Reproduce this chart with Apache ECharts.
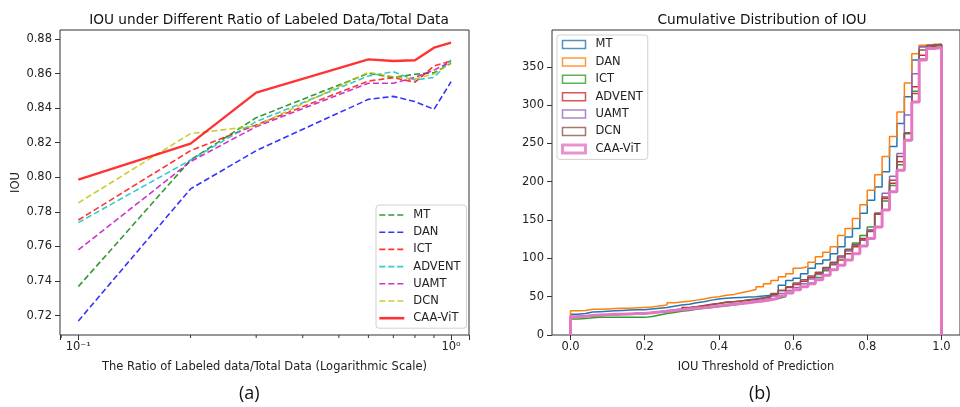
<!DOCTYPE html>
<html>
<head>
<meta charset="utf-8">
<script src="https://cdn.jsdelivr.net/npm/echarts@6/dist/echarts.min.js"></script>
<style>
  html, body { margin: 0; padding: 0; background: #fff; }
  #main { width: 960px; height: 407px; }
</style>
</head>
<body>
<div id="main"></div>
<script>
// (a) IOU vs ratio of labeled data
const ratio = [0.1, 0.2, 0.3, 0.6, 0.7, 0.8, 0.9, 1.0];
const iouMT = [0.7368, 0.8100, 0.8345, 0.8601, 0.8578, 0.8596, 0.8605, 0.8659];
const iouDAN = [0.7169, 0.7933, 0.8154, 0.8451, 0.8468, 0.8438, 0.8393, 0.8553];
const iouICT = [0.7753, 0.8154, 0.8303, 0.8557, 0.8576, 0.8550, 0.8644, 0.8673];
const iouADVENT = [0.7738, 0.8100, 0.8322, 0.8586, 0.8611, 0.8563, 0.8578, 0.8679];
const iouUAMT = [0.7580, 0.8091, 0.8293, 0.8544, 0.8544, 0.8578, 0.8620, 0.8669];
const iouDCN = [0.7852, 0.8253, 0.8297, 0.8607, 0.8582, 0.8569, 0.8598, 0.8663];
const iouCAA = [0.7987, 0.8195, 0.8490, 0.8682, 0.8673, 0.8677, 0.8750, 0.8779];
const leftYTicks = [0.72, 0.74, 0.76, 0.78, 0.80, 0.82, 0.84, 0.86, 0.88];
const minorRatioTicks = [0.09, 0.2, 0.3, 0.4, 0.5, 0.6, 0.7, 0.8, 0.9];

// (b) cumulative histogram, bin left edges + counts
const binEdges = [0, 0.02, 0.04, 0.06, 0.08, 0.10, 0.12, 0.14, 0.16, 0.18,
  0.20, 0.22, 0.24, 0.26, 0.28, 0.30, 0.32, 0.34, 0.36, 0.38,
  0.40, 0.42, 0.44, 0.46, 0.48, 0.50, 0.52, 0.54, 0.56, 0.58,
  0.60, 0.62, 0.64, 0.66, 0.68, 0.70, 0.72, 0.74, 0.76, 0.78,
  0.80, 0.82, 0.84, 0.86, 0.88, 0.90, 0.92, 0.94, 0.96, 0.98, 1.0];
const cumMT = [27, 28, 30, 30.5, 31, 31.5, 32, 32.5, 33, 33,
  34, 35, 36, 37.5, 39, 40, 42, 43.5, 45.5, 47,
  48, 48.5, 49, 49.5, 50, 51, 52, 53, 65, 71,
  74, 80, 87, 93, 98, 106, 115, 128, 139, 159,
  176, 193, 213, 246, 276, 311, 359, 376, 378, 379];
const cumDAN = [31.5, 32, 33.5, 33.5, 34, 34.5, 35, 35, 35.5, 36,
  36.5, 38, 39, 42, 43, 44, 45.5, 47, 49, 50,
  52, 53, 55, 57, 59.5, 63, 67, 71, 76, 80,
  87, 89, 95, 102, 108, 115, 130, 139, 152, 170,
  189, 209, 233, 259, 291, 329, 367, 378, 379, 379];
const cumICT = [21, 21.5, 22.5, 23, 23, 23, 23, 23, 23, 23,
  24, 26, 28, 29.5, 31, 32, 33.5, 35, 36, 37,
  38, 39, 40.5, 42, 43.5, 44.5, 46, 47.5, 50, 54,
  58.5, 63, 68, 75, 84, 92, 101, 110, 120, 130,
  141, 158, 175, 195, 222, 264, 318, 360, 376, 378];
const cumADVENT = [24, 24.5, 25, 25.5, 26, 26.5, 27, 27.5, 28, 28.5,
  29, 30, 30.5, 31, 32, 36, 37, 38.5, 40, 41,
  43, 43.5, 44.5, 45.5, 46.5, 48, 50, 53, 58, 62,
  66, 70, 75, 80, 86, 92, 98, 106, 115, 126,
  137, 158, 178, 198, 226, 263, 324, 365, 376, 379];
const cumUAMT = [24, 25, 25.5, 26, 26.5, 27, 27, 27.5, 28, 28.5,
  29, 30, 31, 32, 33, 34, 35, 36, 37, 38,
  39.5, 40.5, 41.5, 43, 45, 46, 48, 51, 54, 58,
  62, 67, 73, 79, 85, 93, 101, 110, 117, 124,
  137, 159, 185, 207, 237, 287, 341, 376, 378, 379];
const cumDCN = [23, 24, 25, 25, 26, 26.5, 27, 27.5, 28, 28.5,
  29.5, 30.5, 31.5, 33, 34, 35.5, 37, 38, 39.5, 41,
  42.5, 43.5, 44.5, 46, 47, 48.5, 50.5, 54, 58, 63,
  68, 72, 77, 82, 88, 95, 103, 112, 118, 124,
  135, 159, 180, 202, 233, 263, 315, 372, 378, 379];
const cumCAA = [23.5, 24.5, 25.5, 26, 26.5, 27, 27, 27.5, 28, 28,
  29, 30, 31, 32, 33, 34, 35, 35.5, 36.5, 38,
  39, 40, 41, 42, 43.5, 44.5, 46, 48, 51, 55,
  59, 63, 67, 72, 78, 85, 91, 98, 106, 116,
  126, 141, 163, 187, 215, 254, 304, 359, 374, 375];
const rightXTicks = [0, 0.2, 0.4, 0.6, 0.8, 1.0];
const rightYTicks = [0, 50, 100, 150, 200, 250, 300, 350];

const names = ['MT', 'DAN', 'ICT', 'ADVENT', 'UAMT', 'DCN', 'CAA-ViT'];
const leftColors = ['#008000', '#0000ff', '#ff0000', '#00bfbf', '#bf00bf', '#bfbf00', '#ff0000'];
const rightColors = ['#1f77b4', '#ff7f0e', '#2ca02c', '#d62728', '#9467bd', '#8c564b', '#e377c2'];

const FONT = 'DejaVu Sans';
const leftYMin = 0.7088;

var chart = echarts.init(document.getElementById('main'), null, { renderer: 'canvas' });

const leftData = [iouMT, iouDAN, iouICT, iouADVENT, iouUAMT, iouDCN, iouCAA];
const rightData = [cumMT, cumDAN, cumICT, cumADVENT, cumUAMT, cumDCN, cumCAA];

let series = [];

leftData.forEach((vals, i) => {
    const solid = i === 6;
    series.push({
        name: names[i],
        type: 'line',
        xAxisIndex: 0,
        yAxisIndex: 0,
        symbol: 'none',
        data: ratio.map((x, k) => [x, vals[k]]),
        lineStyle: {
            color: leftColors[i],
            opacity: 0.8,
            width: solid ? 2.4 : 1.6,
            type: solid ? 'solid' : [6, 3]
        },
        itemStyle: { color: leftColors[i], opacity: 0.8 },
        z: solid ? 5 : 3
    });
});

// minor ticks of the log axis
series.push({
    type: 'custom',
    xAxisIndex: 0,
    yAxisIndex: 0,
    silent: true,
    clip: false,
    data: minorRatioTicks.map(v => [v, leftYMin]),
    renderItem: function (params, api) {
        const p = api.coord([api.value(0), api.value(1)]);
        return {
            type: 'line',
            shape: { x1: p[0], y1: p[1], x2: p[0], y2: p[1] + 3 },
            style: { stroke: '#333', lineWidth: 1 }
        };
    }
});

rightData.forEach((vals, i) => {
    let pts = [[binEdges[0], 0]];
    for (let k = 0; k < vals.length; k++) {
        pts.push([binEdges[k], vals[k]]);
    }
    pts.push([binEdges[binEdges.length - 1], vals[vals.length - 1]]);
    pts.push([binEdges[binEdges.length - 1], 0]);
    series.push({
        name: names[i],
        type: 'line',
        xAxisIndex: 1,
        yAxisIndex: 1,
        symbol: 'none',
        step: 'end',
        data: pts,
        lineStyle: { color: rightColors[i], width: i === 6 ? 3 : 1.5 },
        itemStyle: { color: rightColors[i] },
        z: 3 + i
    });
});

const axisText = { color: '#222', fontFamily: FONT, fontSize: 11.5 };
const hiddenLine = { show: false, onZero: false };

var option = {
    animation: false,
    backgroundColor: '#fff',
    textStyle: { fontFamily: FONT },
    title: [
        {
            text: 'IOU under Different Ratio of Labeled Data/Total Data',
            left: 264, top: 8, textAlign: 'center',
            textStyle: { fontFamily: FONT, fontSize: 13.7, fontWeight: 'normal', color: '#111' }
        },
        {
            text: 'Cumulative Distribution of IOU',
            left: 757, top: 8, textAlign: 'center',
            textStyle: { fontFamily: FONT, fontSize: 13.7, fontWeight: 'normal', color: '#111' }
        }
    ],
    legend: [
        {
            orient: 'vertical',
            left: 376, top: 205,
            padding: [3.5, 6, 3.5, 2],
            itemWidth: 25, itemHeight: 10, itemGap: 4.2,
            backgroundColor: 'rgba(255,255,255,0.8)',
            borderColor: '#d0d0d0', borderWidth: 1, borderRadius: 3,
            textStyle: { fontFamily: FONT, fontSize: 11.5, color: '#222', lineHeight: 13, padding: [0, 0, 0, 4] },
            data: names.map((n, i) => ({
                name: n,
                lineStyle: { width: i === 6 ? 2.6 : 1.6 },
                itemStyle: { color: 'transparent', borderColor: 'transparent', borderWidth: 0, opacity: 0 }
            }))
        },
        {
            orient: 'vertical',
            left: 557, top: 35,
            padding: [3, 5, 4, 4],
            itemWidth: 23, itemHeight: 8, itemGap: 4.4,
            backgroundColor: 'rgba(255,255,255,0.8)',
            borderColor: '#d0d0d0', borderWidth: 1, borderRadius: 3,
            textStyle: { fontFamily: FONT, fontSize: 11.5, color: '#222', lineHeight: 13, padding: [0, 0, 0, 5] },
            data: names.map((n, i) => ({
                name: n,
                icon: 'rect',
                itemStyle: { color: '#fff', borderColor: rightColors[i], borderWidth: i === 6 ? 3 : 1.5 }
            }))
        }
    ],
    grid: [
        { left: 60, top: 30, width: 409, height: 305, show: true, borderColor: '#333', borderWidth: 1, backgroundColor: 'transparent' },
        { left: 552, top: 30, width: 409, height: 305, show: true, borderColor: '#333', borderWidth: 1, backgroundColor: 'transparent' }
    ],
    xAxis: [
        {
            type: 'log', logBase: 10, gridIndex: 0,
            min: 0.0893, max: 1.117,
            name: 'The Ratio of Labeled data/Total Data (Logarithmic Scale)',
            nameLocation: 'middle', nameGap: 26,
            nameTextStyle: axisText,
            axisLine: hiddenLine,
            splitLine: { show: false },
            axisTick: { length: 5, lineStyle: { color: '#333' } },
            axisLabel: Object.assign({
                margin: 6,
                formatter: function (v) {
                    const l = Math.log10(v);
                    if (Math.abs(l - Math.round(l)) > 1e-6) return '';
                    return Math.round(l) === 0 ? '10\u2070' : '10\u207b\u00b9';
                }
            }, axisText)
        },
        {
            type: 'value', gridIndex: 1,
            min: -0.05, max: 1.05,
            name: 'IOU Threshold of Prediction',
            nameLocation: 'middle', nameGap: 26,
            nameTextStyle: axisText,
            axisLine: hiddenLine,
            splitLine: { show: false },
            axisTick: { length: 5, customValues: rightXTicks, lineStyle: { color: '#333' } },
            axisLabel: Object.assign({
                margin: 6,
                customValues: rightXTicks,
                formatter: v => v.toFixed(1)
            }, axisText)
        }
    ],
    yAxis: [
        {
            type: 'value', gridIndex: 0,
            min: leftYMin, max: 0.8852,
            name: 'IOU',
            nameLocation: 'middle', nameGap: 38,
            nameRotate: 90,
            nameTextStyle: axisText,
            axisLine: hiddenLine,
            splitLine: { show: false },
            axisTick: { length: 5, customValues: leftYTicks, lineStyle: { color: '#333' } },
            axisLabel: Object.assign({
                margin: 8,
                customValues: leftYTicks,
                formatter: v => v.toFixed(2)
            }, axisText)
        },
        {
            type: 'value', gridIndex: 1,
            min: 0, max: 398,
            axisLine: hiddenLine,
            splitLine: { show: false },
            axisTick: { length: 5, customValues: rightYTicks, lineStyle: { color: '#333' } },
            axisLabel: Object.assign({
                margin: 8,
                customValues: rightYTicks
            }, axisText)
        }
    ],
    graphic: [
        {
            type: 'text', left: 239, top: 385,
            style: { text: '(a)', font: '18px "Open Sans"', fill: '#111' }
        },
        {
            type: 'text', left: 749, top: 385,
            style: { text: '(b)', font: '18px "Open Sans"', fill: '#111' }
        }
    ],
    series: series
};

chart.setOption(option);
</script>
</body>
</html>
